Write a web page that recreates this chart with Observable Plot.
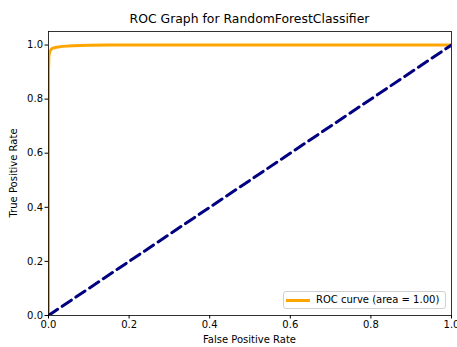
<!DOCTYPE html>
<html>
<head>
<meta charset="utf-8">
<script src="https://cdn.jsdelivr.net/npm/d3@7"></script>
<script src="https://cdn.jsdelivr.net/npm/@observablehq/plot@0.6"></script>
<style>
  html, body { margin: 0; padding: 0; background: #fff; overflow: hidden; }
  #wrap { position: relative; width: 457px; height: 347px; font-family: "DejaVu Sans", sans-serif; color: #000; }
  #title { position: absolute; left: 48px; width: 403px; top: 12px; text-align: center; font-size: 12.4px; line-height: 14px; }
  #chart { position: absolute; left: 0; top: 28px; }
  #xlabel { position: absolute; left: 48px; width: 403px; top: 334px; text-align: center; font-size: 10px; line-height: 12px; }
  #ylabel { position: absolute; left: 14px; top: 173px; transform: translate(-50%, -50%) rotate(-90deg); font-size: 10px; line-height: 12px; white-space: nowrap; }
  #legend { position: absolute; left: 283px; top: 291px; width: 161px; height: 16px; border: 1px solid #d0d0d0; border-radius: 3px; background: rgba(255,255,255,0.8); font-size: 10px; }
  #legend .sw { position: absolute; left: 2px; top: 6.5px; width: 24px; height: 3px; background: orange; }
  #legend .lb { position: absolute; left: 32px; top: 2px; line-height: 12px; white-space: nowrap; }
</style>
</head>
<body>
<div id="wrap">
  <div id="title"></div>
  <div id="chart"></div>
  <div id="xlabel"></div>
  <div id="ylabel"></div>
  <div id="legend"><div class="sw"></div><div class="lb"></div></div>
</div>
<script>
const fpr = [0, 0, 0.001, 0.003, 0.006, 0.01, 0.02, 0.035, 0.06, 0.1, 0.15, 1];
const tpr = [0, 0.9, 0.96, 0.975, 0.983, 0.988, 0.992, 0.995, 0.997, 0.999, 1.0, 1.0];
const diagX = [0, 1];
const diagY = [0, 1];
const ticks = [0, 0.2, 0.4, 0.6, 0.8, 1.0];
const titleText = "ROC Graph for RandomForestClassifier";
const xLabel = "False Positive Rate";
const yLabel = "True Positive Rate";
const legendText = "ROC curve (area = 1.00)";

document.getElementById("title").textContent = titleText;
document.getElementById("xlabel").textContent = xLabel;
document.getElementById("ylabel").textContent = yLabel;
document.querySelector("#legend .lb").textContent = legendText;

const roc = fpr.map((x, i) => ({x, y: tpr[i]}));
const diag = diagX.map((x, i) => ({x, y: diagY[i]}));

const chart = Plot.plot({
  width: 457,
  height: 319,
  marginLeft: 48,
  marginRight: 6,
  marginTop: 3,
  marginBottom: 32,
  style: { fontFamily: "DejaVu Sans, sans-serif", fontSize: "10px", color: "#000", background: "#fff", overflow: "visible" },
  x: { domain: [0, 1] },
  y: { domain: [0, 1.05] },
  marks: [
    Plot.line(roc, { x: "x", y: "y", stroke: "orange", strokeWidth: 3, clip: true, curve: "linear" }),
    Plot.line(diag, { x: "x", y: "y", stroke: "navy", strokeWidth: 3, strokeDasharray: "11,5.5", clip: true }),
    Plot.frame({ stroke: "#000", strokeWidth: 0.8 }),
    Plot.axisX({ ticks, tickFormat: d3.format(".1f"), tickSize: 3.5, tickPadding: 2, label: null, fontSize: 10 }),
    Plot.axisY({ ticks, tickFormat: d3.format(".1f"), tickSize: 3.5, tickPadding: 2, label: null, fontSize: 10 })
  ]
});
document.getElementById("chart").appendChild(chart);
</script>
</body>
</html>
